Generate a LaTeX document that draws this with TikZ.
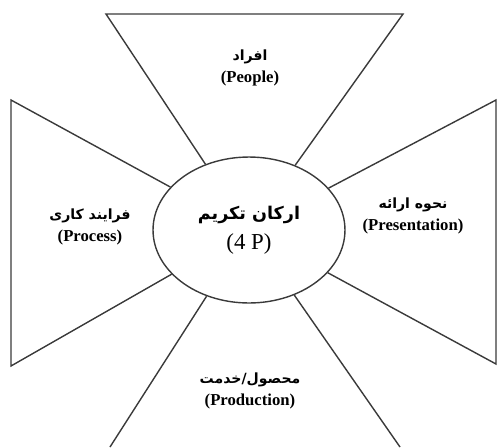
\documentclass[tikz,border=0pt]{standalone}
\usepackage{fontspec}
\usepackage{xcolor}
\setmainfont{Liberation Serif}
\newfontfamily\arabicfont[Script=Arabic]{DejaVu Sans}
\TeXXeTstate=1
\definecolor{line}{HTML}{3A3A3A}
\newcommand{\fa}[1]{{\fontsize{8}{12.5}\selectfont\arabicfont\beginR #1\endR}}
\tikzset{
  part/.style={align=center, font=\fontsize{9.5}{12.5}\selectfont\bfseries},
  core/.style={ellipse, draw=line, line width=0.8pt, minimum width=3.84cm, minimum height=2.92cm, inner sep=0pt, align=center}
}
\usetikzlibrary{shapes.geometric}

\begin{document}
\begin{tikzpicture}[x=0.02cm, y=-0.02cm, line width=0.8pt]
\useasboundingbox (0,0) rectangle (497,447);

% Center ellipse
\node[core] (keys) at (249,230) {{\fontsize{10}{14}\selectfont\bfseries\arabicfont\beginR ارکان تکریم\endR}\\[5pt]{\fontsize{13}{15}\selectfont (4 P)}};

% Outer corners of the four parts
\coordinate (topL) at (106,14);
\coordinate (topR) at (403,14);
\coordinate (leftT) at (11,100);
\coordinate (leftB) at (11,366);
\coordinate (rightT) at (496,100);
\coordinate (rightB) at (496,364);
\coordinate (botL) at (110,447);
\coordinate (botR) at (400,447);

% Draw the parts
\draw[line] (keys) -- (topL) -- (topR) -- (keys);
\draw[line] (keys) -- (leftT) -- (leftB) -- (keys);
\draw[line] (keys) -- (rightT) -- (rightB) -- (keys);
\draw[line] (keys) -- (botL);
\draw[line] (keys) -- (botR);

% Labels
\node[part] (people) at (250,68) {\fa{افراد}\\(People)};
\node[part] (process) at (90,227) {\fa{فرایند کاری}\\(Process)};
\node[part] (present) at (413,216) {\fa{نحوه ارائه}\\(Presentation)};
\node[part] (product) at (250,391) {\fa{محصول/خدمت}\\(Production)};
\end{tikzpicture}
\end{document}
